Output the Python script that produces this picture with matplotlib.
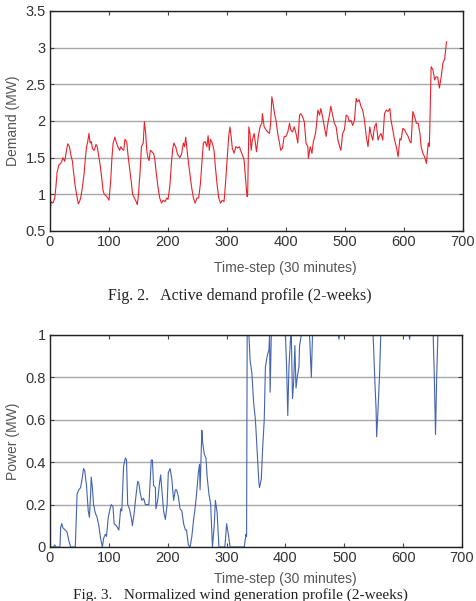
import matplotlib
matplotlib.use("Agg")
import matplotlib.pyplot as plt

# Active demand profile (MW)
demand_t = [0, 2, 5, 8, 10, 12, 15, 18, 20, 22, 25, 28, 30, 33, 35, 38, 40, 42, 45, 48, 50, 52, 55, 58, 60, 62, 64, 66, 68, 70,
            72, 75, 78, 80, 82, 85, 88, 90, 92, 95, 98, 100, 103, 105, 107, 110, 112, 115, 118, 120, 122, 125, 127, 130, 132, 135,
            138, 140, 143, 146, 148, 150, 153, 155, 158, 160, 162, 164, 166, 168, 170, 173, 176, 178, 180, 183, 186, 189, 192, 195,
            198, 200, 203, 206, 208, 210, 213, 216, 220, 223, 226, 228, 230, 233, 236, 240, 243, 246, 249, 252, 255, 258, 260, 263,
            266, 268, 270, 272, 275, 278, 280, 283, 286, 289, 292, 295, 297, 300, 303, 305, 307, 309, 312, 315, 318, 321, 323, 326,
            329, 332, 334, 335, 337, 339, 341, 343, 346, 348, 350, 353, 356, 359, 360, 363, 366, 369, 372, 374, 376, 378, 381, 383,
            386, 389, 391, 394, 397, 400, 403, 406, 408, 411, 414, 417, 420, 423, 425, 428, 431, 434, 437, 438, 441, 444, 446, 450,
            452, 454, 457, 459, 462, 465, 468, 471, 474, 476, 479, 482, 485, 488, 491, 493, 496, 499, 502, 505, 507, 510, 513, 516,
            519, 521, 524, 527, 530, 533, 536, 539, 542, 544, 547, 550, 553, 556, 558, 561, 564, 567, 570, 573, 576, 578, 581, 584,
            587, 590, 593, 595, 598, 601, 604, 607, 610, 612, 615, 618, 621, 624, 627, 629, 632, 635, 638, 641, 643, 646, 649, 652,
            654, 657, 660, 663, 666, 669, 672]
demand_mw = [0.75, 0.9, 0.88, 0.95, 1.1, 1.3, 1.4, 1.42, 1.45, 1.5, 1.45, 1.6, 1.69, 1.65, 1.55, 1.45, 1.3, 1.15, 1.0, 0.87,
             0.9, 0.95, 1.1, 1.3, 1.5, 1.65, 1.72, 1.83, 1.7, 1.72, 1.62, 1.6, 1.68, 1.65, 1.55, 1.4, 1.2, 1.05, 1.0, 0.98,
             0.95, 0.92, 1.2, 1.5, 1.7, 1.78, 1.72, 1.65, 1.6, 1.65, 1.62, 1.6, 1.75, 1.72, 1.55, 1.35, 1.15, 1.0, 0.95, 0.9,
             0.86, 1.0, 1.35, 1.65, 1.7, 1.99, 1.85, 1.6, 1.5, 1.46, 1.6, 1.58, 1.55, 1.45, 1.3, 1.1, 0.95, 0.88, 0.92, 0.9,
             0.95, 0.93, 1.1, 1.45, 1.62, 1.7, 1.65, 1.55, 1.5, 1.55, 1.7, 1.65, 1.78, 1.55, 1.35, 1.1, 0.95, 0.88, 0.95, 0.95,
             1.15, 1.5, 1.7, 1.72, 1.65, 1.8, 1.6, 1.75, 1.7, 1.6, 1.4, 1.15, 0.95, 0.88, 0.92, 0.9, 1.1, 1.45, 1.8, 1.92,
             1.79, 1.63, 1.56, 1.65, 1.63, 1.65, 1.6, 1.54, 1.47, 1.15, 0.97, 0.99, 1.92, 1.83, 1.6, 1.74, 1.83, 1.7, 1.58, 1.79,
             1.92, 1.97, 2.1, 1.92, 1.88, 1.85, 1.83, 1.97, 2.33, 2.24, 2.08, 2.01, 1.83, 1.7, 1.6, 1.63, 1.79, 1.79, 1.85, 1.97,
             1.88, 1.85, 1.92, 1.83, 1.7, 2.08, 2.1, 2.06, 1.99, 1.7, 1.65, 1.49, 1.65, 1.56, 1.7, 1.83, 1.97, 2.15, 2.08, 2.17,
             2.06, 1.92, 1.79, 1.97, 2.1, 2.2, 2.08, 1.97, 1.92, 1.74, 1.65, 1.6, 1.83, 1.88, 2.08, 2.06, 1.99, 2.01, 1.94, 2.01,
             2.31, 2.26, 2.29, 2.2, 2.15, 2.01, 1.79, 1.65, 1.92, 1.83, 1.74, 1.92, 1.97, 1.74, 1.79, 1.83, 1.74, 2.1, 2.15, 2.13,
             2.17, 2.01, 1.88, 1.74, 1.65, 1.51, 1.76, 1.74, 1.9, 1.88, 1.83, 1.79, 1.72, 1.7, 2.13, 2.06, 1.97, 1.97, 1.83, 1.65,
             1.56, 1.51, 1.42, 1.7, 1.65, 2.74, 2.7, 2.56, 2.6, 2.6, 2.45, 2.6, 2.79, 2.85, 3.08]

# Normalized wind generation profile
wind_t = [0, 6, 8, 10, 17, 18, 20, 22, 26, 29, 32, 35, 43, 46, 49, 52, 55, 57, 59, 62, 65, 67, 69, 70, 72, 74, 77, 80, 83, 86,
          89, 91, 94, 96, 99, 102, 104, 107, 109, 113, 117, 120, 122, 125, 128, 130, 132, 135, 138, 140, 143, 146, 149, 151, 153,
          156, 159, 162, 165, 168, 170, 172, 174, 176, 179, 180, 183, 186, 188, 191, 193, 196, 199, 201, 204, 207, 210, 213, 215,
          218, 221, 224, 227, 230, 232, 235, 238, 241, 244, 246, 249, 252, 254, 255, 258, 259, 262, 265, 267, 270, 273, 276, 279,
          281, 284, 287, 297, 298, 300, 303, 306, 330, 333, 334, 335, 338, 340, 343, 346, 349, 352, 355, 356, 359, 361, 364, 366,
          369, 372, 373, 374, 376, 400, 402, 404, 406, 409, 410, 412, 414, 416, 418, 420, 423, 424, 427, 441, 444, 446, 490, 491,
          492, 549, 552, 554, 555, 557, 560, 562, 610, 611, 612, 651, 653, 655, 657, 659, 672]
wind_pu = [0, 0, 0.01, 0, 0, 0.09, 0.11, 0.09, 0.08, 0.07, 0.03, 0, 0, 0.25, 0.27, 0.28, 0.33, 0.37, 0.36, 0.29, 0.17, 0.14,
           0.25, 0.33, 0.28, 0.2, 0.16, 0.14, 0.1, 0.04, 0, 0.04, 0.06, 0.05, 0.14, 0.18, 0.2, 0.19, 0.11, 0.1, 0.08, 0.18, 0.17,
           0.38, 0.42, 0.41, 0.2, 0.18, 0.14, 0.1, 0.16, 0.24, 0.31, 0.3, 0.26, 0.22, 0.23, 0.2, 0.2, 0.2, 0.3, 0.41, 0.41, 0.29,
           0.28, 0.18, 0.22, 0.3, 0.34, 0.24, 0.17, 0.13, 0.2, 0.35, 0.37, 0.32, 0.22, 0.27, 0.27, 0.24, 0.18, 0.17, 0.11, 0.08,
           0.08, 0.01, 0, 0.05, 0.13, 0.17, 0.25, 0.35, 0.39, 0.27, 0.55, 0.5, 0.44, 0.42, 0.33, 0.25, 0.2, 0, 0.1, 0.22, 0.16, 0,
           0, 0.03, 0.11, 0.06, 0, 0, 0.06, 0.05, 1.0, 1.0, 0.88, 0.82, 0.68, 0.6, 0.45, 0.3, 0.28, 0.32, 0.45, 0.6, 0.85, 0.9,
           0.93, 1.0, 0.73, 1.0, 1.0, 0.85, 0.62, 0.85, 1.0, 1.0, 0.7, 0.78, 0.95, 0.75, 0.8, 0.85, 0.95, 1.0, 1.0, 0.8, 1.0, 1.0,
           0.98, 1.0, 1.0, 0.78, 0.65, 0.52, 0.63, 0.82, 1.0, 1.0, 0.98, 1.0, 1.0, 0.8, 0.53, 0.8, 1.0, 1.0]

x_ticks = [0, 100, 200, 300, 400, 500, 600, 700]
demand_ticks = [0.5, 1, 1.5, 2, 2.5, 3, 3.5]
wind_ticks = [0, 0.2, 0.4, 0.6, 0.8, 1]

plt.rcParams['font.family'] = ['Liberation Sans', 'DejaVu Sans']

fig = plt.figure(figsize=(4.77, 6.01), dpi=100)
ax1 = fig.add_axes([50 / 477, 1 - 231 / 601, 413 / 477, 220 / 601])
ax2 = fig.add_axes([50 / 477, 1 - 547 / 601, 412 / 477, 212 / 601])


def style(ax, yticks, ylabel):
    ax.set_xlim(0, 700)
    ax.set_ylim(yticks[0], yticks[-1])
    ax.set_xticks(x_ticks)
    ax.set_yticks(yticks)
    ax.set_yticklabels([('%g' % v) for v in yticks])
    ax.tick_params(direction='in', top=True, right=True, length=3, width=0.8,
                   labelsize=10.5, labelcolor='#333333', color='#444444', pad=3)
    ax.grid(axis='y', color='#a8a8a8', linewidth=1.0)
    ax.set_axisbelow(True)
    for s in ax.spines.values():
        s.set_color('#222222')
        s.set_linewidth(1.0)
    ax.set_ylabel(ylabel, fontsize=10, color='#555555', labelpad=4)


ax1.plot(demand_t, demand_mw, color='#e8232c', linewidth=0.8)
style(ax1, demand_ticks, 'Demand (MW)')

ax2.plot(wind_t, wind_pu, color='#4463b0', linewidth=0.8)
style(ax2, wind_ticks, 'Power (MW)')

fig.text(285 / 477, 1 - 268 / 601, 'Time-step (30 minutes)', ha='center', va='center',
         fontsize=10, color='#555555')
fig.text(285 / 477, 1 - 579 / 601, 'Time-step (30 minutes)', ha='center', va='center',
         fontsize=10, color='#555555')

fig.text(240 / 477, 1 - 296 / 601, 'Fig. 2.   Active demand profile (2-weeks)', ha='center', va='center',
         fontsize=11.5, family='Liberation Serif', color='#222222')
fig.text(240 / 477, 1 - 599 / 601, 'Fig. 3.   Normalized wind generation profile (2-weeks)', ha='center',
         va='baseline', fontsize=11, family='Liberation Serif', color='#222222')

fig.savefig('out.png', dpi=100)
